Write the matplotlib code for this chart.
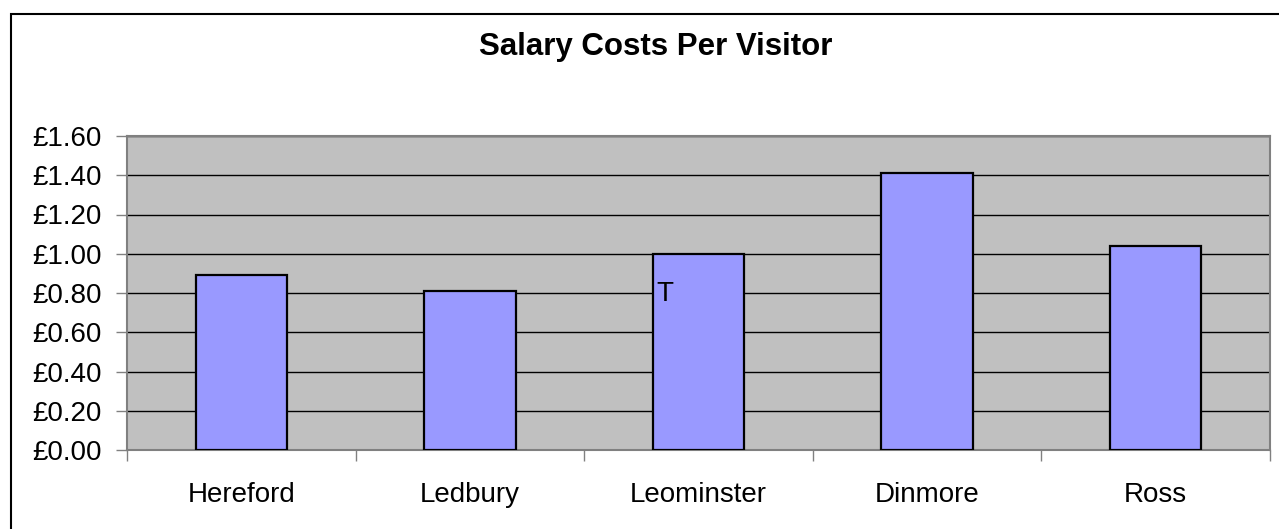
import numpy as np
import matplotlib.pyplot as plt
from matplotlib.patches import Rectangle

plt.rcParams['font.family'] = ['Liberation Sans', 'DejaVu Sans']

# data
sites = ['Hereford', 'Ledbury', 'Leominster', 'Dinmore', 'Ross']
cost_per_visitor = [0.89, 0.81, 1.00, 1.41, 1.04]
yticks = [0.0, 0.2, 0.4, 0.6, 0.8, 1.0, 1.2, 1.4, 1.6]

W, H = 1279, 529
fig = plt.figure(figsize=(W / 100, H / 100), dpi=100)
# outer chart border (only top and left visible in the crop)
fig.patches.append(Rectangle((11 / W, -0.1), 1.2, (H - 14) / H + 0.1,
                             transform=fig.transFigure, fill=False,
                             edgecolor='black', linewidth=1.5))

# plot area in pixels: x 127..1270, y 136..450
ax = fig.add_axes([127 / W, (H - 450) / H, (1270 - 127) / W, (450 - 136) / H])
ax.set_facecolor('#C0C0C0')

x = np.arange(len(sites))
ax.bar(x, cost_per_visitor, width=0.4, color='#9999FF', edgecolor='black',
       linewidth=1.6, zorder=3)

ax.set_xlim(-0.5, len(sites) - 0.5)
ax.set_ylim(0, 1.6)
ax.set_yticks(yticks)
ax.set_yticklabels(['£%.2f' % v for v in yticks], fontsize=20)
ax.yaxis.grid(True, color='black', linewidth=1.0, zorder=1)
ax.set_axisbelow(True)

# category labels centred, tick marks between categories
ax.set_xticks(x)
ax.set_xticklabels(sites, fontsize=20)
ax.tick_params(axis='x', length=0, pad=23)
ax.set_xticks(np.arange(-0.5, len(sites)), minor=True)
ax.tick_params(axis='x', which='minor', length=8, color='#808080', width=1)
ax.tick_params(axis='y', length=8, color='#808080', width=1, pad=10)

for s in ax.spines.values():
    s.set_color('#808080')
    s.set_linewidth(1.5)

ax.text(1.853, 0.795, 'T', fontsize=20, ha='center', va='center', zorder=4)

fig.text(656 / W, 1 - 47 / H, 'Salary Costs Per Visitor', fontsize=22.5,
         fontweight='bold', ha='center', va='center')

fig.savefig('out.png', dpi=100)
